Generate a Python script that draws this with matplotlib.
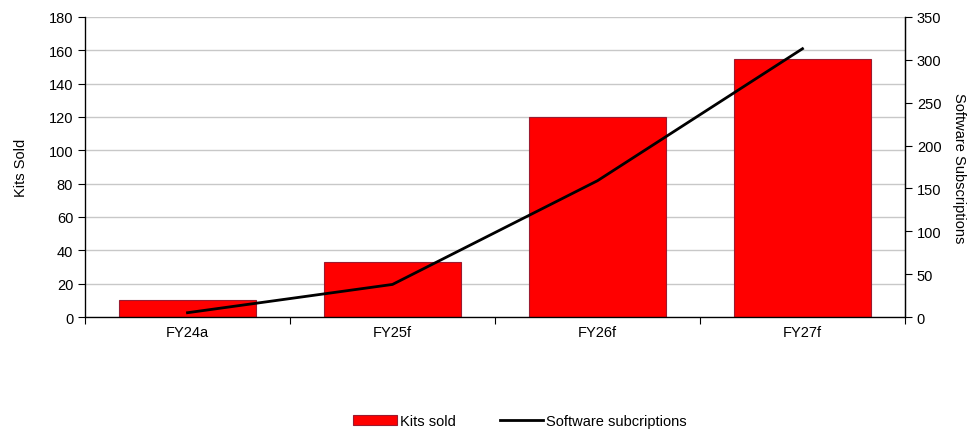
import matplotlib.pyplot as plt
import numpy as np

plt.rcParams['font.family'] = ['Liberation Sans', 'DejaVu Sans']
plt.rcParams['font.size'] = 10.5

years = ['FY24a', 'FY25f', 'FY26f', 'FY27f']
kits_sold = [10, 33, 120, 155]
software_subs = [5, 38, 159, 313]

fig = plt.figure(figsize=(9.72, 4.35), dpi=100)
ax = fig.add_axes([85 / 972, 1 - 318 / 435, 820 / 972, 300 / 435])
x = np.arange(len(years))

ax.bar(x, kits_sold, width=0.67, color='#ff0000', edgecolor='#9b1b30',
       linewidth=0.8, zorder=2, label='Kits sold')
ax.set_xlim(-0.5, len(years) - 0.5)
ax.set_ylim(0, 180)
ax.set_yticks(range(0, 181, 20))
ax.set_xticks(x)
ax.set_xticklabels(years)
# category boundary ticks, as in a spreadsheet chart
ax.set_xticks(np.arange(-0.5, len(years), 1), minor=True)
ax.tick_params(axis='x', which='major', length=0, pad=6)
ax.tick_params(axis='x', which='minor', length=5, width=0.8)
ax.tick_params(axis='y', length=5, width=0.8, direction='out')
ax.yaxis.grid(True, color='#c8c8c8', linewidth=1.0, zorder=0)
ax.set_axisbelow(True)
ax.set_ylabel('Kits Sold', labelpad=15)
ax.spines['top'].set_visible(False)
for s in ['left', 'bottom', 'right']:
    ax.spines[s].set_linewidth(0.9)

ax2 = ax.twinx()
ax2.plot(x, software_subs, color='black', linewidth=2, label='Software subcriptions')
ax2.set_ylim(0, 350)
ax2.set_yticks(range(0, 351, 50))
ax2.tick_params(axis='y', length=5, width=0.8, direction='out')
ax2.set_ylabel('Software Subscriptions', rotation=270, labelpad=18)
ax2.spines['top'].set_visible(False)
ax2.spines['right'].set_linewidth(0.9)

h1, l1 = ax.get_legend_handles_labels()
h2, l2 = ax2.get_legend_handles_labels()
fig.legend(h1 + h2, l1 + l2, loc='center', bbox_to_anchor=(0.535, 1 - 422 / 435),
           ncol=2, frameon=False, handlelength=3, columnspacing=3, handletextpad=0.2)

fig.savefig('out.png', dpi=100)
